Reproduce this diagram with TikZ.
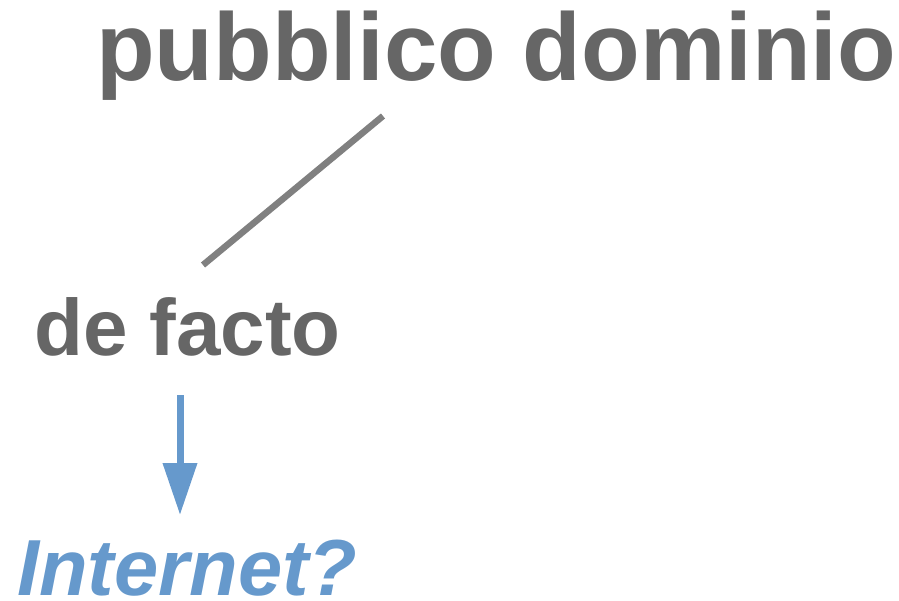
\documentclass[tikz,border=0pt]{standalone}
\usepackage{fontspec}
\setmainfont{Liberation Sans}
\usetikzlibrary{arrows.meta}
\definecolor{txtgray}{HTML}{666666}
\definecolor{linegray}{HTML}{808080}
\definecolor{arrowblue}{HTML}{6699CC}
\begin{document}
\begin{tikzpicture}[x=1pt,y=-1pt,
  lbl/.style={inner sep=0pt,anchor=base west,font=\bfseries},
  link/.style={draw=linegray,line width=6.5pt},
  flow/.style={draw=arrowblue,line width=7pt,-{Triangle[width=33pt,length=52pt]},arrowblue}]
\useasboundingbox (0,0) rectangle (899,600);
\node[lbl,text=txtgray,font=\fontsize{96}{96}\selectfont\bfseries] (pd) at (96,80) {pubblico dominio};
\node[lbl,text=txtgray,font=\fontsize{80}{80}\selectfont\bfseries] (df) at (34,355) {de facto};
\node[lbl,text=arrowblue,font=\fontsize{79.5}{79.5}\selectfont\bfseries\itshape] (inet) at (17,595) {Internet?};
\coordinate (l1) at (383,116);
\coordinate (l2) at (203,265);
\coordinate (a1) at (180,395);
\coordinate (a2) at (180,515);
\draw[link] (l1) -- (l2);
\draw[flow] (a1) -- (a2);
\end{tikzpicture}
\end{document}
